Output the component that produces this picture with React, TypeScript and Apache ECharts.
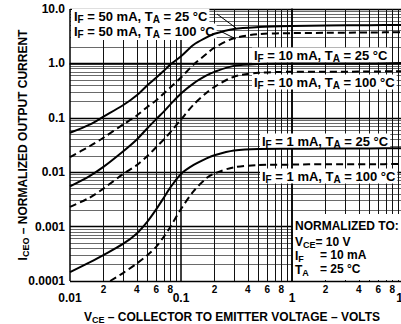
import React, { useEffect, useRef } from 'react';
import * as echarts from 'echarts';

// ---- data ----
const vce = [0.01, 0.015, 0.02, 0.03, 0.04, 0.05, 0.06, 0.07, 0.08, 0.1, 0.13, 0.17, 0.2, 0.3, 0.5, 1, 2, 5, 10];
const vceLow = [0.023, 0.03, 0.04, 0.05, 0.06, 0.07, 0.08, 0.1, 0.13, 0.17, 0.2, 0.3, 0.5, 1, 2, 5, 10];

const if50ta25 = [0.053, 0.075, 0.105, 0.17, 0.26, 0.4, 0.55, 0.73, 0.95, 1.35, 2.2, 3.0, 3.5, 4.3, 4.65, 4.85, 4.95, 5.05, 5.1];
const if50ta100 = [0.019, 0.03, 0.043, 0.075, 0.11, 0.16, 0.21, 0.28, 0.36, 0.55, 0.95, 1.5, 1.95, 2.9, 3.45, 3.6, 3.65, 3.7, 3.75];
const if10ta25 = [0.0055, 0.0085, 0.0125, 0.024, 0.04, 0.065, 0.095, 0.13, 0.175, 0.28, 0.43, 0.6, 0.7, 0.9, 0.98, 1.0, 1.0, 1.0, 1.02];
const if10ta100 = [0.0023, 0.0034, 0.005, 0.0092, 0.0135, 0.02, 0.029, 0.04, 0.054, 0.093, 0.175, 0.29, 0.37, 0.57, 0.67, 0.7, 0.7, 0.71, 0.72];
const if1ta25 = [0.000145, 0.00022, 0.0003, 0.00048, 0.00075, 0.00125, 0.0021, 0.0034, 0.0052, 0.0093, 0.0136, 0.018, 0.0205, 0.025, 0.0268, 0.027, 0.0272, 0.0274, 0.0275];
const if1ta100 = [0.0001, 0.00014, 0.00021, 0.0003, 0.00043, 0.00065, 0.00098, 0.0021, 0.0045, 0.0078, 0.0095, 0.0123, 0.0135, 0.0138, 0.014, 0.014, 0.0142];

const xDecadeLabels = ['0.01', '0.1', '1', '10'];
const yDecadeLabels = ['0.0001', '0.001', '0.01', '0.1', '1.0', '10.0'];
const xMinorLabelMantissas = [2, 4, 6, 8];
const gridMantissas = [2, 3, 4, 5, 6, 7, 8, 9];

const FONT = "'Liberation Sans', Arial, Helvetica, sans-serif";

const pairs = (xs: number[], ys: number[]) => ys.map((y, i) => [xs[i], y]);

const richZ = {
  n: { fontSize: 13, fontWeight: 'bold', fontFamily: FONT, fill: '#000', lineHeight: 15 },
  s: { fontSize: 10, fontWeight: 'bold', fontFamily: FONT, fill: '#000', lineHeight: 11, padding: [7, 0, 0, 0] },
};
const richBox = {
  n: { fontSize: 12, fontWeight: 'bold', fontFamily: FONT, fill: '#000', lineHeight: 14 },
  s: { fontSize: 9, fontWeight: 'bold', fontFamily: FONT, fill: '#000', lineHeight: 10, padding: [6, 0, 0, 0] },
};

function label(x: number, y: number, text: string, rich: any = richZ) {
  return {
    type: 'text',
    x,
    y,
    z: 1,
    style: {
      text,
      rich,
      fill: '#000',
      backgroundColor: '#fff',
      padding: [0, 2, 0, 2],
      align: 'left',
      verticalAlign: 'middle',
    },
  };
}

export default function App() {
  const ref = useRef<HTMLDivElement>(null);

  useEffect(() => {
    const chart = echarts.init(ref.current!, null, { renderer: 'svg' });

    const xMinorTicks: number[] = [];
    for (let k = -2; k <= 0; k++) for (const m of gridMantissas) xMinorTicks.push(Math.log10(m * Math.pow(10, k)));
    const xMinorLabelVals: number[] = [];
    for (let k = -2; k <= 0; k++) for (const m of xMinorLabelMantissas) xMinorLabelVals.push(Math.log10(m * Math.pow(10, k)));
    const yMinorTicks: number[] = [];
    for (let k = -4; k <= 0; k++) for (const m of gridMantissas) yMinorTicks.push(Math.log10(m * Math.pow(10, k)));

    const mk = (name: string, xs: number[], ys: number[], dashed: boolean) => ({
      name,
      type: 'line',
      xAxisIndex: 0,
      yAxisIndex: 0,
      data: pairs(xs, ys),
      smooth: 0.3,
      symbol: 'none',
      showSymbol: false,
      silent: true,
      z: 4,
      lineStyle: { color: '#000', width: 2, type: dashed ? [7, 4] : 'solid' },
    });

    const axisNameRich = {
      n: { fontSize: 12, fontWeight: 'bold', fontFamily: FONT, color: '#000' },
      s: { fontSize: 9, fontWeight: 'bold', fontFamily: FONT, color: '#000', padding: [6, 0, 0, 0] },
    };

    const option: any = {
      animation: false,
      backgroundColor: '#fff',
      textStyle: { fontFamily: FONT },
      grid: { left: 70, top: 9, right: -2, bottom: 43, containLabel: false, outerBoundsMode: 'none' },
      xAxis: [
        {
          type: 'log',
          logBase: 10,
          min: 0.01,
          max: 10,
          position: 'bottom',
          axisLine: { show: true, lineStyle: { color: '#000', width: 1.5 } },
          axisTick: { show: false },
          minorTick: { show: false },
          minorSplitLine: { show: false },
          splitLine: { show: true, lineStyle: { color: '#000', width: 1.5 } },
          axisLabel: {
            formatter: (v: number) => xDecadeLabels[Math.round(Math.log10(v)) + 2],
            margin: 11,
            color: '#000',
            fontSize: 12,
            fontWeight: 'bold',
            fontFamily: FONT,
          },
          name: '{n|V}{s|CE}{n| – COLLECTOR TO EMITTER VOLTAGE – VOLTS}',
          nameLocation: 'middle',
          nameGap: 28,
          nameTextStyle: { rich: axisNameRich, padding: [0, 9, 0, 0] },
        },
        {
          type: 'value',
          min: -2,
          max: 1,
          position: 'bottom',
          axisLine: { show: false },
          axisTick: { show: false, customValues: xMinorTicks },
          axisLabel: {
            show: true,
            customValues: xMinorLabelVals,
            formatter: (v: number) => String(Math.round(Math.pow(10, v - Math.floor(v + 1e-9)))),
            margin: 3,
            color: '#000',
            fontSize: 10,
            fontWeight: 'bold',
            fontFamily: FONT,
          },
          splitLine: { show: true, lineStyle: { color: '#111', width: 1 } },
        },
      ],
      yAxis: [
        {
          type: 'log',
          logBase: 10,
          min: 0.0001,
          max: 10,
          position: 'left',
          axisLine: { show: true, lineStyle: { color: '#000', width: 1.5 } },
          axisTick: { show: false },
          minorTick: { show: false },
          minorSplitLine: { show: false },
          splitLine: { show: true, lineStyle: { color: '#000', width: 1.3 } },
          axisLabel: {
            formatter: (v: number) => yDecadeLabels[Math.round(Math.log10(v)) + 4],
            margin: 5,
            color: '#000',
            fontSize: 12,
            fontWeight: 'bold',
            fontFamily: FONT,
          },
          name: '{n|I}{s|CEO}{n| – NORMALIZED OUTPUT CURRENT}',
          nameLocation: 'middle',
          nameRotate: 90,
          nameGap: 40,
          nameMoveOverlap: false,
          nameTextStyle: { rich: axisNameRich },
        },
        {
          type: 'value',
          min: -4,
          max: 1,
          position: 'left',
          axisLine: { show: false },
          axisTick: { show: false, customValues: yMinorTicks },
          axisLabel: { show: false },
          splitLine: { show: true, lineStyle: { color: '#444', width: 0.8 } },
        },
      ],
      series: [
        mk('IF = 50 mA, TA = 25 °C', vce, if50ta25, false),
        mk('IF = 50 mA, TA = 100 °C', vce, if50ta100, true),
        mk('IF = 10 mA, TA = 25 °C', vce, if10ta25, false),
        mk('IF = 10 mA, TA = 100 °C', vce, if10ta100, true),
        mk('IF = 1 mA, TA = 25 °C', vce, if1ta25, false),
        mk('IF = 1 mA, TA = 100 °C', vceLow, if1ta100, true),
      ],
      graphic: {
        elements: [
          { type: 'rect', z: 1, shape: { x: 71, y: 10, width: 127, height: 30 }, style: { fill: '#fff' } },
          label(72, 16, '{n|I}{s|F}{n| = 50 mA, T}{s|A}{n| = 25 °C}'),
          label(72, 31, '{n|I}{s|F}{n| = 50 mA, T}{s|A}{n| = 100 °C}'),
          { type: 'line', z: 3, shape: { x1: 217, y1: 14, x2: 236, y2: 28 }, style: { stroke: '#000', lineWidth: 1 } },
          { type: 'line', z: 3, shape: { x1: 220, y1: 31, x2: 236, y2: 39 }, style: { stroke: '#000', lineWidth: 1 } },
          label(252, 55, '{n|I}{s|F}{n| = 10 mA, T}{s|A}{n| = 25 °C}'),
          label(252, 82, '{n|I}{s|F}{n| = 10 mA, T}{s|A}{n| = 100 °C}'),
          label(260, 141, '{n|I}{s|F}{n| = 1 mA, T}{s|A}{n| = 25 °C}'),
          label(260, 176, '{n|I}{s|F}{n| = 1 mA, T}{s|A}{n| = 100 °C}'),
          { type: 'rect', z: 1, shape: { x: 293, y: 214, width: 110, height: 66 }, style: { fill: '#fff' } },
          label(293, 226, '{n|NORMALIZED TO:}', richBox),
          label(293, 242, '{n|V}{s|CE}{n|= 10 V}', richBox),
          label(293, 256, '{n|I}{s|F}', richBox),
          label(318, 255, '{n|= 10 mA}', richBox),
          label(293, 270, '{n|T}{s|A}', richBox),
          label(318, 269, '{n|= 25 °C}', richBox),
        ],
      },
    };

    chart.setOption(option);
    return () => chart.dispose();
  }, []);

  return (
    <div
      ref={ref}
      style={{ position: 'fixed', left: 0, top: 0, width: 401, height: 324, background: '#fff' }}
    />
  );
}
